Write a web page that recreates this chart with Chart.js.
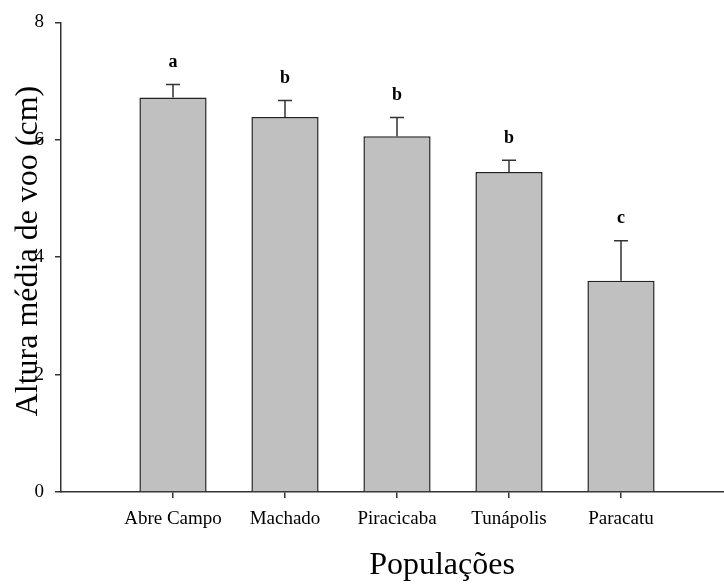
<!DOCTYPE html>
<html>
<head>
<meta charset="utf-8">
<script src="https://cdn.jsdelivr.net/npm/chart.js@4.4.0/dist/chart.umd.min.js"></script>
<style>
  html, body { margin: 0; padding: 0; background: #fff; overflow: hidden; }
  #wrap { width: 743px; height: 585px; }
</style>
</head>
<body>
<div id="wrap"><canvas id="barChart" width="743" height="585"></canvas></div>
<script>
// dados
const populacoes = ['Abre Campo', 'Machado', 'Piracicaba', 'Tunápolis', 'Paracatu'];
const alturaMedia = [6.72, 6.39, 6.06, 5.45, 3.60];
const erroPadrao = [0.22, 0.28, 0.32, 0.20, 0.68];
const letras = ['a', 'b', 'b', 'b', 'c'];
const yTicks = [0, 2, 4, 6, 8];

const serif = '"Liberation Serif", "Times New Roman", serif';
const axisColor = '#333';

// slot vazio nas pontas para o eixo x ir de 0 a 6 (o fim fica fora da janela)
const labels = [''].concat(populacoes, ['']);
const values = [null].concat(alturaMedia, [null]);

const errorBars = {
  id: 'errorBars',
  afterDatasetsDraw(chart) {
    const { ctx, scales: { x, y } } = chart;
    ctx.save();
    ctx.strokeStyle = axisColor;
    ctx.lineWidth = 1.5;
    ctx.fillStyle = '#000';
    ctx.font = 'bold 18px ' + serif;
    ctx.textAlign = 'center';
    ctx.textBaseline = 'middle';
    alturaMedia.forEach((v, i) => {
      const px = x.getPixelForValue(i + 1);
      const top = y.getPixelForValue(v);
      const cap = y.getPixelForValue(v + erroPadrao[i]);
      ctx.beginPath();
      ctx.moveTo(px, top);
      ctx.lineTo(px, cap);
      ctx.moveTo(px - 7, cap);
      ctx.lineTo(px + 7, cap);
      ctx.stroke();
      ctx.fillText(letras[i], px, cap - 22);
    });
    ctx.restore();
  }
};

const titles = {
  id: 'titles',
  afterDraw(chart) {
    const ctx = chart.ctx;
    ctx.save();
    ctx.fillStyle = '#000';
    ctx.textAlign = 'center';
    ctx.textBaseline = 'middle';
    ctx.font = '32px ' + serif;
    ctx.fillText('Populações', 442, 566);
    ctx.translate(29, 251);
    ctx.rotate(-Math.PI / 2);
    ctx.fillText('Altura média de voo (cm)', 0, 0);
    ctx.restore();
  }
};

new Chart(document.getElementById('barChart').getContext('2d'), {
  type: 'bar',
  data: {
    labels: labels,
    datasets: [{
      data: values,
      backgroundColor: '#c0c0c0',
      borderColor: '#222',
      borderWidth: 1.5,
      barPercentage: 0.6,
      categoryPercentage: 1
    }]
  },
  options: {
    responsive: false,
    animation: false,
    layout: { padding: { top: 22, left: 0, right: 0, bottom: 0 } },
    plugins: {
      legend: { display: false },
      tooltip: { enabled: false }
    },
    scales: {
      x: {
        offset: false,
        afterFit(scale) { scale.height = 93; },
        border: { display: true, color: axisColor, width: 1.5 },
        grid: {
          offset: false,
          drawOnChartArea: false,
          drawTicks: true,
          tickLength: 6,
          lineWidth: 1.5,
          color: c => (c.index === 0 || c.index === labels.length - 1) ? 'rgba(0,0,0,0)' : axisColor
        },
        ticks: {
          autoSkip: false,
          maxRotation: 0,
          padding: 10,
          color: '#000',
          font: { family: serif, size: 19 }
        }
      },
      y: {
        min: 0,
        max: 8,
        afterFit(scale) { scale.width = 61; },
        afterBuildTicks(scale) { scale.ticks = yTicks.map(v => ({ value: v })); },
        border: { display: true, color: axisColor, width: 1.5 },
        grid: {
          drawOnChartArea: false,
          drawTicks: true,
          tickLength: 6,
          lineWidth: 1.5,
          color: axisColor
        },
        ticks: {
          padding: 11,
          color: '#000',
          font: { family: serif, size: 19 }
        }
      }
    }
  },
  plugins: [errorBars, titles]
});
</script>
</body>
</html>
